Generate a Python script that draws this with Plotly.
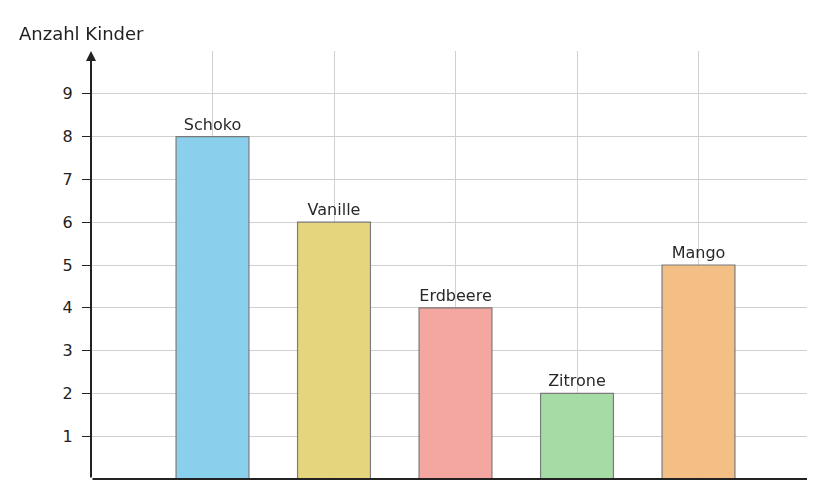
import plotly.graph_objects as go

categories = ["Schoko", "Vanille", "Erdbeere", "Zitrone", "Mango"]
values = [8, 6, 4, 2, 5]
positions = [1, 2, 3, 4, 5]
colors = ["#87CEEB", "#E5D57A", "#F4A59D", "#A3DBA3", "#F3BD80"]
y_ticks = list(range(1, 10))

fig = go.Figure(go.Bar(
    x=positions, y=values, width=0.6,
    marker=dict(color=colors, line=dict(color="#777777", width=1.2)),
    opacity=0.97,
    text=categories, textposition="outside", cliponaxis=False,
    textfont=dict(family="DejaVu Sans", size=16, color="#222222"),
))
fig.update_layout(
    width=815, height=480, margin=dict(l=83, r=3, t=43, b=9),
    paper_bgcolor="white", plot_bgcolor="white", showlegend=False,
    font=dict(family="DejaVu Sans", size=16, color="#222222"),
    xaxis=dict(range=[0, 6], tickvals=[0, 1, 2, 3, 4, 5, 6], showticklabels=False,
               showgrid=True, gridcolor="#d0d0d0", gridwidth=1, zeroline=False, fixedrange=True),
    yaxis=dict(range=[0, 10], tickvals=y_ticks, showgrid=True, gridcolor="#d0d0d0",
               ticks="outside", ticklen=8, tickcolor="#222222", zeroline=False,
               ticklabelstandoff=6),
    annotations=[
        dict(text="Anzahl Kinder", xref="paper", yref="paper", x=-0.102, y=1.0,
             yshift=30, xanchor="left", yanchor="top", showarrow=False,
             font=dict(size=18, color="#222222")),
        dict(xref="x domain", yref="y domain", axref="x domain", ayref="y domain",
             x=0, y=1.0, ax=0, ay=0, showarrow=True, arrowhead=2, arrowsize=1,
             arrowwidth=2, arrowcolor="#222222", text=""),
        dict(xref="x domain", yref="y domain", axref="x domain", ayref="y domain",
             x=0.997, y=0, ax=0, ay=0, showarrow=True, arrowhead=2, arrowsize=1,
             arrowwidth=2, arrowcolor="#222222", text=""),
    ],
)
fig.write_html("out.html")
